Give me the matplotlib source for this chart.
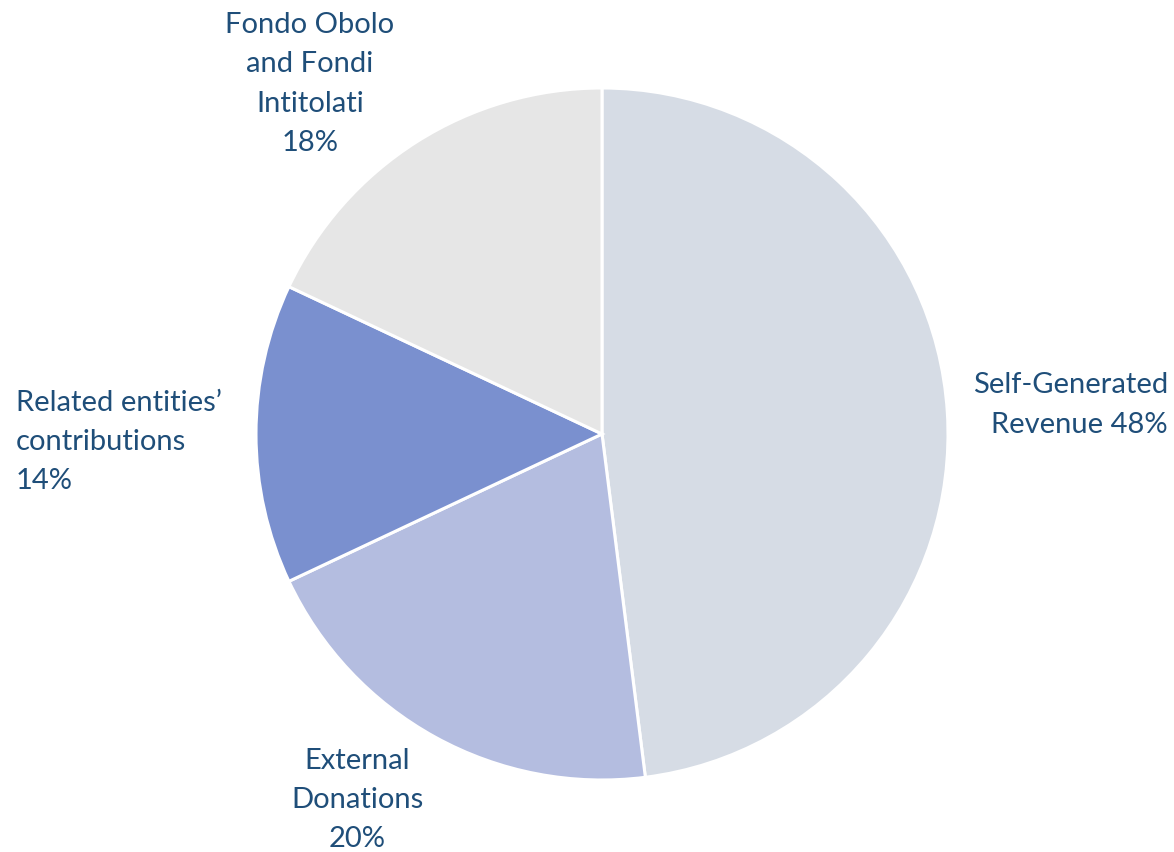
import matplotlib.pyplot as plt

labels = ["Self-Generated\nRevenue 48%", "External\nDonations\n20%",
          "Related entities’\ncontributions\n14%", "Fondo Obolo\nand Fondi\nIntitolati\n18%"]
shares = [48, 20, 14, 18]
colors = ["#D6DCE5", "#B4BDE0", "#7A90CF", "#E6E6E6"]

W, H = 1174, 852
cx, cy, r = 602, 434, 346

fig = plt.figure(figsize=(W / 100, H / 100), dpi=100)
ax = fig.add_axes([(cx - r) / W, (H - cy - r) / H, 2 * r / W, 2 * r / H])
ax.pie(shares, colors=colors, startangle=90, counterclock=False, radius=1,
       wedgeprops=dict(edgecolor="white", linewidth=2.2))
ax.set_xlim(-1, 1)
ax.set_ylim(-1, 1)
ax.set_aspect("equal")
ax.axis("off")

def px(x, y):
    return (x - cx) / r, (cy - y) / r

txt = dict(color="#1F4E79", fontsize=21, family="Lato", linespacing=1.62, va="center")
ax.text(*px(1168, 405), labels[0], ha="right", multialignment="right", **txt)
ax.text(*px(357, 800), labels[1], ha="center", multialignment="center", **txt)
ax.text(*px(16, 442), labels[2], ha="left", multialignment="left", **txt)
ax.text(*px(310, 84), labels[3], ha="center", multialignment="center", **txt)

fig.savefig("out.png", dpi=100)
